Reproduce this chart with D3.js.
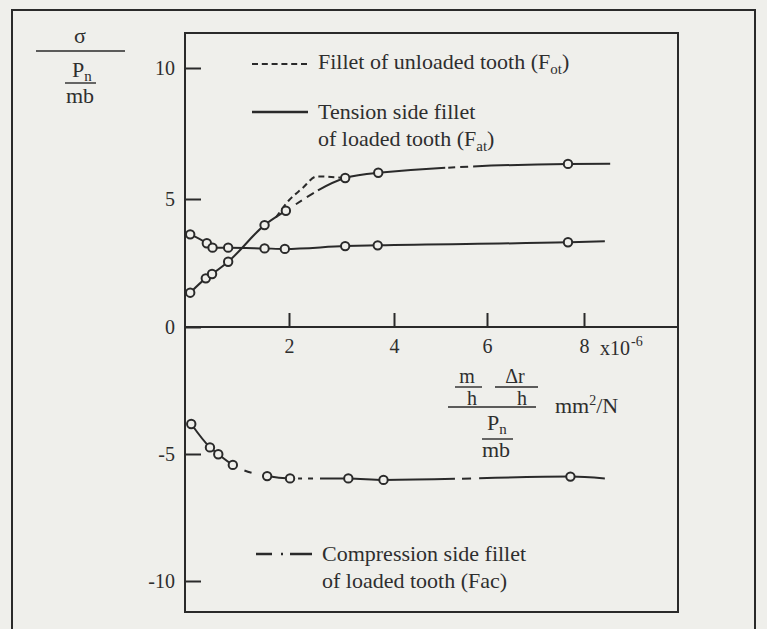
<!DOCTYPE html>
<html>
<head>
<meta charset="utf-8">
<script src="https://cdn.jsdelivr.net/npm/d3@7/dist/d3.min.js"></script>
<style>
  html, body { margin: 0; padding: 0; background: #efefeb; }
  svg { display: block; }
  text { font-family: "Liberation Serif", "Times New Roman", serif; fill: #2e2e2e; }
</style>
</head>
<body>
<svg id="chart" width="767" height="629"></svg>
<script>
// ---------------- data ----------------
const xTicks = [2, 4, 6, 8];
const yTicks = [10, 5, 0, -5, -10];

// rising curve with circles (tension side, loaded tooth)
const riseX = [0.10, 0.40, 0.52, 0.83, 1.53, 1.94, 3.07, 3.70, 7.67, 8.54];
const riseY = [1.34, 1.90, 2.07, 2.55, 3.98, 4.54, 5.80, 6.00, 6.34, 6.35];
// nearly flat curve with circles
const flatX = [0.10, 0.42, 0.53, 0.83, 1.53, 1.92, 3.07, 3.69, 7.67, 8.43];
const flatY = [3.62, 3.27, 3.10, 3.10, 3.07, 3.05, 3.16, 3.19, 3.31, 3.35];
// dashed branch (unloaded tooth)
const dashX = [1.75, 2.00, 2.25, 2.53, 3.07];
const dashY = [4.28, 4.95, 5.40, 5.86, 5.80];
// compression side curve with circles
const compX = [0.12, 0.48, 0.64, 0.92, 1.58, 2.02, 3.13, 3.80, 7.72, 8.43];
const compY = [-3.82, -4.74, -5.01, -5.43, -5.87, -5.96, -5.96, -6.02, -5.89, -5.96];

// sections of the curves that are broken into dashes (x from, x to)
const riseBreakFrom = [1.94, 5.10];
const riseBreakTo   = [2.55, 5.70];
const compBreakFrom = [0.92, 2.02, 5.31];
const compBreakTo   = [1.58, 2.59, 5.83];

// ---------------- drawing ----------------
const ink = "#2a2a2a";
const bg = "#efefeb";
const svg = d3.select("#chart");
svg.append("rect").attr("width", 767).attr("height", 629).attr("fill", bg);

const x = d3.scaleLinear().domain([0, 2, 4, 6, 8]).range([185, 289, 394, 487, 584]);
const y = d3.scaleLinear().domain([-10, -5, 0, 5, 10]).range([581, 454, 327, 199, 68]);

// outer frame
svg.append("rect").attr("x", 12).attr("y", 10).attr("width", 743).attr("height", 640)
  .attr("fill", "none").attr("stroke", ink).attr("stroke-width", 2);
// plot box
svg.append("rect").attr("x", 185).attr("y", 33).attr("width", 493).attr("height", 579)
  .attr("fill", "none").attr("stroke", ink).attr("stroke-width", 2);

// y axis
const gy = svg.append("g").attr("transform", "translate(185,0)")
  .call(d3.axisLeft(y).tickValues(yTicks).tickSize(-16).tickPadding(10).tickFormat(d3.format("d")));
gy.select(".domain").remove();
gy.selectAll(".tick line").attr("stroke", ink).attr("stroke-width", 2);
gy.selectAll(".tick text").attr("font-size", 20).attr("font-family", "Liberation Serif").attr("fill", "#2e2e2e")
  .text(d => d < 0 ? "-" + Math.abs(d) : d);

// x axis at zero
svg.append("line").attr("x1", 185).attr("x2", 678).attr("y1", y(0)).attr("y2", y(0))
  .attr("stroke", ink).attr("stroke-width", 2);
const gx = svg.append("g").attr("transform", `translate(0,${y(0)})`)
  .call(d3.axisBottom(x).tickValues(xTicks).tickSize(-14).tickPadding(12).tickFormat(d3.format("d")));
gx.select(".domain").remove();
gx.selectAll(".tick line").attr("stroke", ink).attr("stroke-width", 2);
gx.selectAll(".tick text").attr("font-size", 20).attr("font-family", "Liberation Serif").attr("fill", "#2e2e2e");

const xm = svg.append("text").attr("x", 600).attr("y", 355).attr("font-size", 20);
xm.append("tspan").text("x10");
xm.append("tspan").attr("font-size", 14).attr("dy", -9).attr("dx", 1).text("-6");

// helpers
const line = d3.line().x(d => x(d[0])).y(d => y(d[1])).curve(d3.curveMonotoneX);
function pts(xs, ys) { return xs.map((v, i) => [v, ys[i]]); }

function lenAtX(node, px) {
  const L = node.getTotalLength();
  let lo = 0, hi = L;
  for (let i = 0; i < 40; i++) {
    const m = (lo + hi) / 2;
    if (node.getPointAtLength(m).x < px) lo = m; else hi = m;
  }
  return lo;
}
function applyBreaks(path, froms, tos, patterns) {
  const node = path.node();
  const L = node.getTotalLength();
  const arr = [];
  let pos = 0;
  froms.forEach((f, i) => {
    const la = lenAtX(node, x(f)), lb = lenAtX(node, x(tos[i]));
    arr.push(Math.max(0, la - pos));
    const p = patterns[i];
    const tot = d3.sum(p);
    p.forEach(v => arr.push(v * (lb - la) / tot));
    pos = lb;
  });
  arr.push(L - pos + 20, 20);
  path.attr("stroke-dasharray", arr.map(v => v.toFixed(2)).join(","));
}

const gLines = svg.append("g").attr("fill", "none").attr("stroke", ink).attr("stroke-width", 2);

const flatPath = gLines.append("path").attr("d", line(pts(flatX, flatY)));
const dashPath = gLines.append("path").attr("d", line(pts(dashX, dashY))).attr("stroke-dasharray", "6,4");
const risePath = gLines.append("path").attr("d", line(pts(riseX, riseY)));
applyBreaks(risePath, riseBreakFrom, riseBreakTo, [[10, 6, 5, 7, 4], [3, 7, 5, 8, 5]]);
const compPath = gLines.append("path").attr("d", line(pts(compX, compY)));
applyBreaks(compPath, compBreakFrom, compBreakTo, [[12, 7, 15], [8, 4, 6, 5, 7], [7, 9, 8]]);

// circles (all measured points except the line ends)
function circles(xs, ys) {
  svg.append("g").selectAll("circle").data(pts(xs, ys).slice(0, -1)).join("circle")
    .attr("cx", d => x(d[0])).attr("cy", d => y(d[1])).attr("r", 4.2)
    .attr("fill", bg).attr("stroke", ink).attr("stroke-width", 2);
}
circles(flatX, flatY);
circles(riseX, riseY);
circles(compX, compY);

// ---------------- legend ----------------
const lg = svg.append("g");
lg.append("line").attr("x1", 252).attr("x2", 307).attr("y1", 64).attr("y2", 64)
  .attr("stroke", ink).attr("stroke-width", 2.2).attr("stroke-dasharray", "6,3.8");
const t1 = lg.append("text").attr("x", 318).attr("y", 69).attr("font-size", 22);
t1.append("tspan").text("Fillet of unloaded tooth (F");
t1.append("tspan").attr("font-size", 15).attr("dy", 5).text("ot");
t1.append("tspan").attr("dy", -5).text(")");

lg.append("line").attr("x1", 252).attr("x2", 308).attr("y1", 112).attr("y2", 112)
  .attr("stroke", ink).attr("stroke-width", 2.4);
lg.append("text").attr("x", 318).attr("y", 119).attr("font-size", 22).text("Tension side fillet");
const t2 = lg.append("text").attr("x", 318).attr("y", 146).attr("font-size", 22);
t2.append("tspan").text("of loaded tooth (F");
t2.append("tspan").attr("font-size", 15).attr("dy", 5).text("at");
t2.append("tspan").attr("dy", -5).text(")");

lg.append("line").attr("x1", 256).attr("x2", 312).attr("y1", 554).attr("y2", 554)
  .attr("stroke", ink).attr("stroke-width", 2.4).attr("stroke-dasharray", "16,9,2,7,22");
lg.append("text").attr("x", 322).attr("y", 561).attr("font-size", 22).text("Compression side fillet");
lg.append("text").attr("x", 322).attr("y", 588).attr("font-size", 22).text("of loaded tooth (Fac)");

// ---------------- axis titles ----------------
const yt = svg.append("g");
yt.append("text").attr("x", 80).attr("y", 43).attr("text-anchor", "middle").attr("font-size", 22).text("σ");
yt.append("line").attr("x1", 36).attr("x2", 125).attr("y1", 51).attr("y2", 51).attr("stroke", ink).attr("stroke-width", 1.6);
const yp = yt.append("text").attr("x", 72).attr("y", 77).attr("font-size", 22);
yp.append("tspan").text("P");
yp.append("tspan").attr("font-size", 15).attr("dy", 4).text("n");
yt.append("line").attr("x1", 65).attr("x2", 96).attr("y1", 83).attr("y2", 83).attr("stroke", ink).attr("stroke-width", 1.4);
yt.append("text").attr("x", 80).attr("y", 103).attr("text-anchor", "middle").attr("font-size", 22).text("mb");

const xt = svg.append("g");
xt.append("text").attr("x", 467).attr("y", 383).attr("text-anchor", "middle").attr("font-size", 20).text("m");
xt.append("line").attr("x1", 455).attr("x2", 482).attr("y1", 387).attr("y2", 387).attr("stroke", ink).attr("stroke-width", 1.4);
xt.append("text").attr("x", 515).attr("y", 383).attr("text-anchor", "middle").attr("font-size", 20).text("Δr");
xt.append("line").attr("x1", 495).attr("x2", 538).attr("y1", 387).attr("y2", 387).attr("stroke", ink).attr("stroke-width", 1.4);
xt.append("text").attr("x", 472).attr("y", 405).attr("text-anchor", "middle").attr("font-size", 20).text("h");
xt.append("text").attr("x", 522).attr("y", 405).attr("text-anchor", "middle").attr("font-size", 20).text("h");
xt.append("line").attr("x1", 448).attr("x2", 536).attr("y1", 407).attr("y2", 407).attr("stroke", ink).attr("stroke-width", 1.6);
const xp = xt.append("text").attr("x", 487).attr("y", 430).attr("font-size", 22);
xp.append("tspan").text("P");
xp.append("tspan").attr("font-size", 15).attr("dy", 4).text("n");
xt.append("line").attr("x1", 482).attr("x2", 513).attr("y1", 439).attr("y2", 439).attr("stroke", ink).attr("stroke-width", 1.4);
xt.append("text").attr("x", 496).attr("y", 457).attr("text-anchor", "middle").attr("font-size", 22).text("mb");
const xu = xt.append("text").attr("x", 555).attr("y", 413).attr("font-size", 22);
xu.append("tspan").text("mm");
xu.append("tspan").attr("font-size", 14).attr("dy", -8).text("2");
xu.append("tspan").attr("dy", 8).text("/N");
</script>
</body>
</html>
